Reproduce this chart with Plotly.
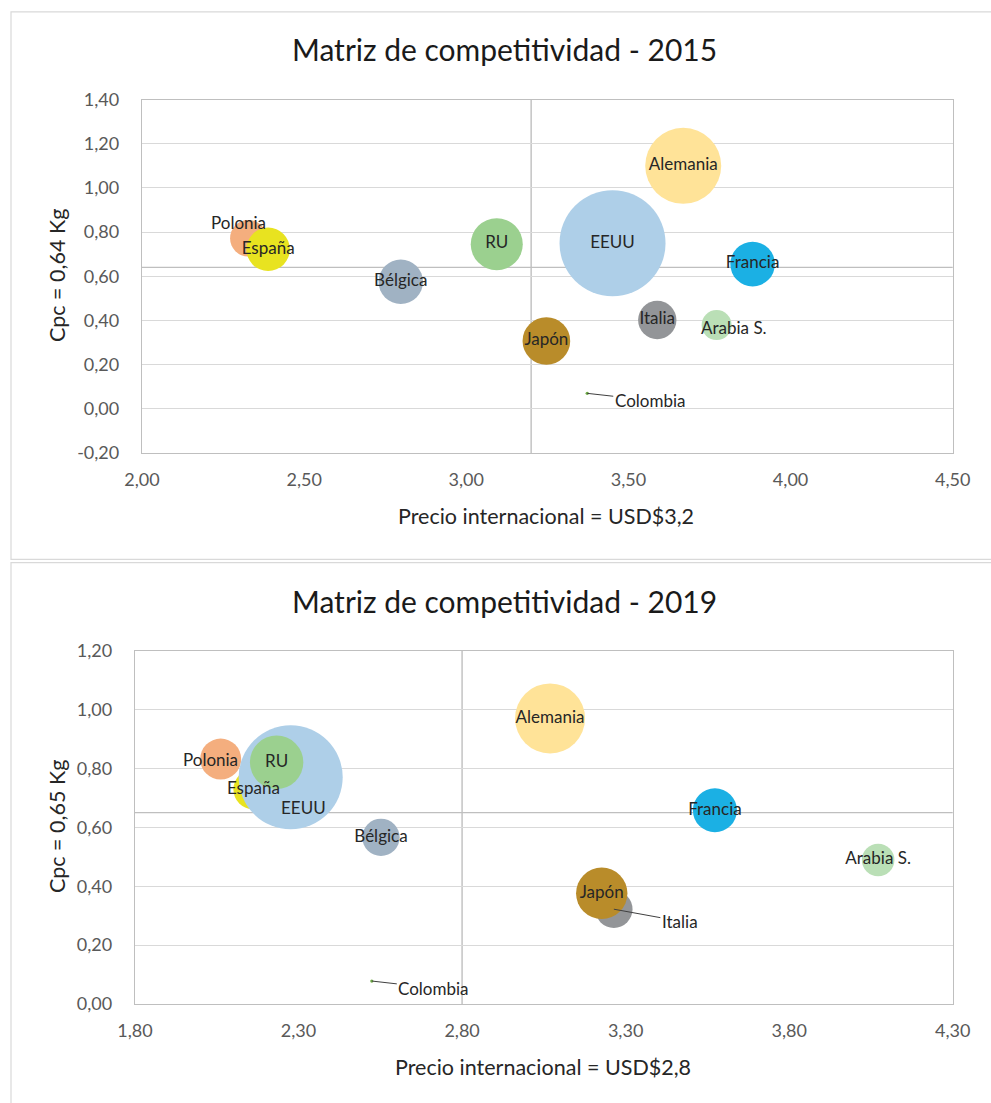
import plotly.graph_objects as go

# ---------------- data ----------------
paises = ["Colombia", "Polonia", "España", "Bélgica", "Italia", "Arabia S.",
          "EEUU", "RU", "Alemania", "Francia", "Japón"]
colores = ["#70AD47", "#F4AE7E", "#E8E320", "#A0B2C3", "#939598", "#BADFB6",
           "#AECFE8", "#9BD08F", "#FFE398", "#1BB0E4", "#B98C2A"]

# 2015
precio_2015 = [3.373, 2.328, 2.389, 2.798, 3.589, 3.772, 3.451, 3.094, 3.669, 3.883, 3.247]
cpc_2015 = [0.070, 0.772, 0.722, 0.575, 0.402, 0.379, 0.749, 0.745, 1.100, 0.655, 0.307]
tam_2015 = [0.1, 11.9, 16.8, 17.6, 13.1, 8.0, 100.0, 24.1, 51.4, 17.7, 20.2]
ref_precio_2015 = 3.2
ref_cpc_2015 = 0.64

# 2019
precio_2019 = [2.524, 2.062, 2.162, 2.552, 3.264, 4.072, 2.276, 2.233, 3.069, 3.573, 3.227]
cpc_2019 = [0.078, 0.832, 0.729, 0.566, 0.322, 0.489, 0.770, 0.821, 0.970, 0.658, 0.376]
tam_2019 = [0.1, 15.5, 14.8, 12.9, 12.9, 9.8, 100.0, 26.4, 45.3, 17.9, 24.4]
ref_precio_2019 = 2.8
ref_cpc_2019 = 0.65

x_ticks_2015 = [2.00, 2.50, 3.00, 3.50, 4.00, 4.50]
y_ticks_2015 = [-0.20, 0.00, 0.20, 0.40, 0.60, 0.80, 1.00, 1.20, 1.40]
x_ticks_2019 = [1.80, 2.30, 2.80, 3.30, 3.80, 4.30]
y_ticks_2019 = [0.00, 0.20, 0.40, 0.60, 0.80, 1.00, 1.20]

titulo_2015 = "Matriz de competitividad - 2015"
titulo_2019 = "Matriz de competitividad - 2019"
xtitulo_2015 = "Precio internacional = USD$3,2"
xtitulo_2019 = "Precio internacional = USD$2,8"
ytitulo_2015 = "Cpc = 0,64 Kg"
ytitulo_2019 = "Cpc = 0,65 Kg"

# ---------------- style ----------------
W, H = 991, 1103
FONT = "Lato"
TXT = "#262626"
TICK = "#595959"
GRID = "#d9d9d9"
AXLINE = "#bfbfbf"

# label placement (pixel offsets) for labels not centred on the bubble
despl_2015 = {"Polonia": (-10, 16), "Arabia S.": (17, -2)}
flecha_2015 = {"Colombia": (63, 7)}
despl_2019 = {"EEUU": (13, -30), "Polonia": (-10, 0)}
flecha_2019 = {"Colombia": (62, 7), "Italia": (66, 12)}


def px_x(p):
    return p / W


def px_y(p):
    return 1 - p / H


def fmt(v):
    return f"{v:.2f}".replace(".", ",").replace("-0,00", "0,00")


fig = go.Figure()
annotations = []
shapes = []

charts = [
    dict(x=precio_2015, y=cpc_2015, s=tam_2015, xa="x", ya="y", rmax=53,
         despl=despl_2015, flecha=flecha_2015),
    dict(x=precio_2019, y=cpc_2019, s=tam_2019, xa="x2", ya="y2", rmax=52,
         despl=despl_2019, flecha=flecha_2019),
]

for c in charts:
    sizeref = 2.0 * max(c["s"]) / (2 * c["rmax"]) ** 2
    textos = [p if (p not in c["despl"] and p not in c["flecha"]) else "" for p in paises]
    fig.add_trace(go.Scatter(
        x=c["x"], y=c["y"], xaxis=c["xa"], yaxis=c["ya"],
        mode="markers+text", text=textos, textposition="middle center",
        textfont=dict(family=FONT, size=17, color=TXT),
        marker=dict(size=c["s"], sizemode="area", sizeref=sizeref,
                    color=colores, opacity=1, line=dict(width=0)),
        hoverinfo="text", hovertext=paises, showlegend=False, cliponaxis=False,
    ))
    for i, p in enumerate(paises):
        if p in c["despl"]:
            dx, dy = c["despl"][p]
            annotations.append(dict(
                x=c["x"][i], y=c["y"][i], xref=c["xa"], yref=c["ya"], text=p,
                showarrow=False, xshift=dx, yshift=dy,
                font=dict(family=FONT, size=17, color=TXT)))
        if p in c["flecha"]:
            ax, ay = c["flecha"][p]
            annotations.append(dict(
                x=c["x"][i], y=c["y"][i], xref=c["xa"], yref=c["ya"], text=p,
                showarrow=True, arrowhead=0, arrowwidth=1, arrowcolor="#404040",
                ax=ax, ay=ay, standoff=0,
                font=dict(family=FONT, size=17, color=TXT)))

# reference lines (price and Cpc)
for xa, ya, xr, yr in [("x", "y", ref_precio_2015, ref_cpc_2015),
                       ("x2", "y2", ref_precio_2019, ref_cpc_2019)]:
    shapes.append(dict(type="line", xref=xa, yref=f"{ya} domain", x0=xr, x1=xr, y0=0, y1=1,
                       line=dict(color=AXLINE, width=1.4), layer="below"))
    shapes.append(dict(type="line", xref=f"{xa} domain", yref=ya, x0=0, x1=1, y0=yr, y1=yr,
                       line=dict(color=AXLINE, width=1.4), layer="below"))

# chart boxes
shapes.append(dict(type="rect", xref="paper", yref="paper",
                   x0=px_x(11), x1=px_x(1000), y0=px_y(559.3), y1=px_y(11.8),
                   line=dict(color=GRID, width=1.2), layer="below"))
shapes.append(dict(type="rect", xref="paper", yref="paper",
                   x0=px_x(11), x1=px_x(1000), y0=px_y(1110), y1=px_y(562.7),
                   line=dict(color=GRID, width=1.2), layer="below"))

# titles
for txt, x, y, size, ang, col in [
    (titulo_2015, 504, 49, 30, 0, "#1a1a1a"), (titulo_2019, 504, 601, 30, 0, "#1a1a1a"),
    (xtitulo_2015, 546, 516, 21.5, 0, TXT), (xtitulo_2019, 543, 1067, 21.5, 0, TXT),
    (ytitulo_2015, 57, 276, 21.5, -90, TXT), (ytitulo_2019, 57, 827, 21.5, -90, TXT),
]:
    annotations.append(dict(x=px_x(x), y=px_y(y), xref="paper", yref="paper",
                            text=txt, showarrow=False, textangle=ang,
                            xanchor="center", yanchor="middle",
                            font=dict(family=FONT, size=size, color=col)))


def xaxis(dom, rng, ticks, anchor):
    return dict(domain=dom, range=rng, tickvals=ticks, ticktext=[fmt(v) for v in ticks],
                showgrid=False, zeroline=False, showline=True, mirror=True,
                linecolor=AXLINE, linewidth=1.3, ticks="", ticklabelstandoff=10,
                tickfont=dict(family=FONT, size=18, color=TICK), anchor=anchor,
                fixedrange=True, automargin=False)


def yaxis(dom, rng, ticks, anchor):
    return dict(domain=dom, range=rng, tickvals=ticks, ticktext=[fmt(v) for v in ticks],
                showgrid=True, gridcolor=GRID, gridwidth=1.2, zeroline=False,
                showline=True, mirror=True, linecolor=AXLINE, linewidth=1.3,
                ticks="", ticklabelstandoff=18,
                tickfont=dict(family=FONT, size=18, color=TICK), anchor=anchor,
                fixedrange=True, automargin=False)


fig.update_layout(
    width=W, height=H, margin=dict(l=0, r=0, t=0, b=0, autoexpand=False),
    paper_bgcolor="white", plot_bgcolor="white",
    font=dict(family=FONT, color=TXT),
    xaxis=xaxis([px_x(142), px_x(952.7)], [2.0, 4.5], x_ticks_2015, "y"),
    yaxis=yaxis([px_y(453), px_y(99.5)], [-0.2, 1.4], y_ticks_2015, "x"),
    xaxis2=xaxis([px_x(135), px_x(952.7)], [1.8, 4.3], x_ticks_2019, "y2"),
    yaxis2=yaxis([px_y(1004), px_y(650.7)], [0.0, 1.2], y_ticks_2019, "x2"),
    annotations=annotations, shapes=shapes,
)

fig.write_html("out.html")
